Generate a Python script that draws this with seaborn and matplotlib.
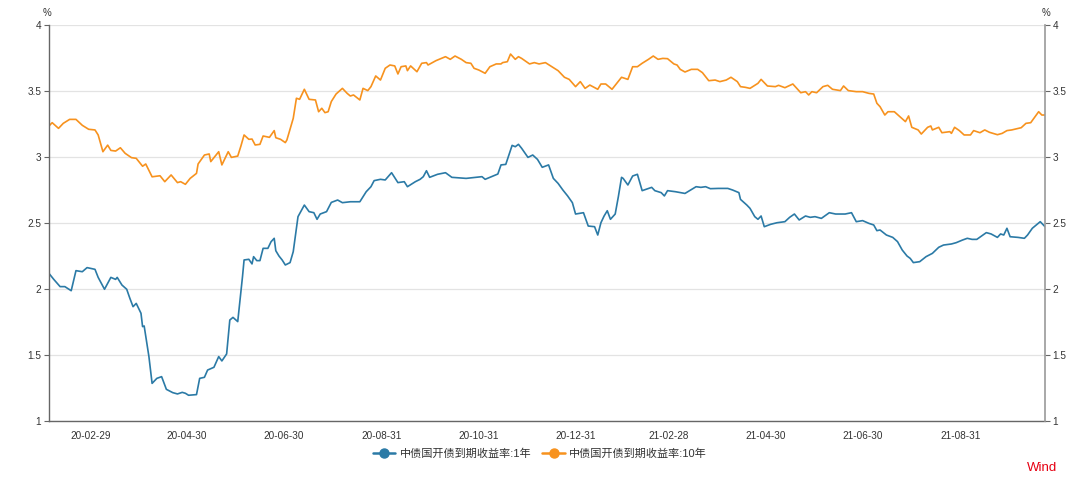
import numpy as np
import pandas as pd
import matplotlib
matplotlib.use("Agg")
import matplotlib.pyplot as plt
import seaborn as sns
import matplotlib.dates as mdates
from matplotlib.lines import Line2D
from matplotlib.ticker import FuncFormatter

sns.set_theme(style="white")
plt.rcParams["font.family"] = ["Liberation Sans", "Noto Sans CJK SC", "DejaVu Sans"]

# ---------------- data ----------------
base_date = "2020-02-29"
series_names = ["中债国开债到期收益率:1年", "中债国开债到期收益率:10年"]
colors = ["#2b7aa6", "#f7921e"]

# days relative to base_date
days_1y = [-26, -23, -19, -16, -12, -9, -5, -2, 3, 5,
           9, 13, 16, 17, 20, 23, 25, 27, 29, 32,
           33, 34, 37, 39, 42, 45, 48, 52, 55, 58,
           60, 62, 67, 69, 72, 74, 78, 81, 83, 86,
           88, 90, 93, 96, 97, 100, 102, 103, 105, 107,
           109, 112, 114, 116, 117, 119, 121, 123, 126, 128,
           131, 135, 138, 141, 143, 145, 149, 152, 156, 159,
           164, 170, 174, 177, 179, 183,
           186, 190, 194, 198, 200, 205, 208, 210, 212, 214,
           219, 224, 228, 237, 243, 247, 249, 254, 257, 259,
           262, 264, 266, 268, 270, 272, 276, 279, 282, 285,
           289, 292, 295, 298, 301, 304, 306, 311, 314, 318,
           320, 322, 324, 326, 328, 331, 333, 335, 336, 339,
           342, 345, 348, 354, 356, 360, 362, 364, 369, 375,
           382, 385, 388, 391,
           396, 402, 405, 409, 410, 414, 416, 419, 421, 423,
           425, 429, 433, 438, 441, 444, 447, 451, 454, 457,
           461, 466, 470, 476, 480, 483, 487, 491, 494, 496,
           498, 502, 506, 509, 512, 515, 517, 519, 523, 527,
           531, 535, 538, 543, 546, 550, 553, 556, 559, 565,
           568, 572, 574, 576, 578, 580, 585, 589, 591, 594,
           599, 602]
yld_1y = [2.118, 2.073, 2.018, 2.018, 1.987, 2.139, 2.131, 2.162, 2.149, 2.088,
          1.998, 2.088, 2.073, 2.088, 2.03, 1.998, 1.929, 1.866, 1.891, 1.816,
          1.715, 1.72, 1.488, 1.285, 1.323, 1.336, 1.24, 1.215, 1.205, 1.217,
          1.21, 1.195, 1.2, 1.323, 1.331, 1.386, 1.407, 1.488, 1.455, 1.508,
          1.765, 1.785, 1.753, 2.093, 2.22, 2.225, 2.19, 2.245, 2.215, 2.215,
          2.308, 2.308, 2.358, 2.384, 2.29, 2.25, 2.22, 2.182, 2.2, 2.283,
          2.548, 2.636, 2.586, 2.578, 2.528, 2.568, 2.586, 2.656, 2.674, 2.654,
          2.661, 2.661, 2.737, 2.775, 2.821, 2.831,
          2.826, 2.881, 2.806, 2.813, 2.775, 2.813, 2.831, 2.851, 2.896, 2.846,
          2.869, 2.881, 2.846, 2.838, 2.846, 2.851, 2.831, 2.856, 2.871, 2.94,
          2.944, 3.015, 3.088, 3.078, 3.096, 3.066, 2.997, 3.015, 2.982, 2.922,
          2.94, 2.838, 2.8, 2.75, 2.705, 2.654, 2.568, 2.578, 2.477, 2.472,
          2.409, 2.502, 2.553, 2.593, 2.528, 2.568, 2.7, 2.846, 2.838, 2.788,
          2.856, 2.869, 2.745, 2.77, 2.745, 2.73, 2.705, 2.745, 2.737, 2.724,
          2.775, 2.77, 2.775, 2.76,
          2.762, 2.762, 2.75, 2.73, 2.679, 2.636, 2.611, 2.548, 2.528, 2.553,
          2.472, 2.49, 2.502, 2.51, 2.543, 2.568, 2.523, 2.553, 2.543, 2.548,
          2.535, 2.578, 2.568, 2.568, 2.578, 2.51, 2.518, 2.497, 2.485, 2.442,
          2.447, 2.409, 2.391, 2.359, 2.295, 2.25, 2.232, 2.2, 2.207, 2.245,
          2.27, 2.316, 2.333, 2.341, 2.351, 2.371, 2.384, 2.376, 2.376, 2.427,
          2.417, 2.391, 2.417, 2.409, 2.46, 2.396, 2.391, 2.384, 2.409, 2.46,
          2.51, 2.472]

days_10y = [-26, -24, -20, -17, -13, -9, -5, -1, 3, 5,
            8, 11, 13, 16, 19, 22, 26, 29, 33, 35,
            39, 44, 47, 51, 55, 57, 60, 63, 67, 68,
            72, 75, 76, 81, 83, 87, 89, 93, 95, 97,
            100, 102, 104, 107, 109, 113, 116, 117, 120, 123,
            124, 128, 130, 132, 135, 138, 142, 144, 146, 148,
            150, 152, 155, 159, 162, 164, 166, 170, 172, 175,
            177, 180, 183,
            186, 189, 192, 194, 196, 199, 200, 202, 206, 209,
            212, 213, 218, 224, 227, 230, 234, 237, 240, 242,
            245, 249, 252, 256, 259, 260, 263, 265, 268, 270,
            272, 277, 280, 283, 287, 291, 295, 299, 302, 306,
            309, 312, 315, 320, 322, 325, 329, 332, 335, 339,
            342, 345, 348, 352, 355, 358, 361, 364, 368, 370,
            372, 375, 379, 383, 386, 390,
            394, 397, 401, 404, 408, 410, 413, 416, 421, 423,
            427, 432, 434, 438, 443, 448, 451, 453, 455, 458,
            462, 465, 468, 473, 475, 478, 483, 487, 491, 494,
            496, 498, 501, 503, 507, 510, 514, 516, 518, 522,
            524, 528, 530, 531, 535, 537, 542, 543, 545, 548,
            551, 555, 557, 561, 564, 567, 572, 575, 578, 581,
            587, 590, 593, 595, 598, 600, 602]
yld_10y = [3.235, 3.26, 3.217, 3.255, 3.285, 3.285, 3.24, 3.21, 3.205, 3.167,
           3.04, 3.09, 3.05, 3.045, 3.07, 3.028, 2.995, 2.99, 2.93, 2.947,
           2.85, 2.858, 2.813, 2.864, 2.806, 2.813, 2.793, 2.838, 2.876, 2.947,
           3.015, 3.023, 2.965, 3.04, 2.94, 3.04, 2.997, 3.007, 3.083, 3.167,
           3.134, 3.136, 3.091, 3.096, 3.159, 3.149, 3.2, 3.146, 3.134, 3.109,
           3.129, 3.293, 3.445, 3.437, 3.513, 3.437, 3.432, 3.343, 3.369, 3.336,
           3.343, 3.42, 3.477, 3.52, 3.482, 3.462, 3.47, 3.432, 3.52, 3.503,
           3.533, 3.614, 3.583,
           3.672, 3.697, 3.69, 3.629, 3.684, 3.69, 3.654, 3.69, 3.646, 3.71,
           3.715, 3.697, 3.73, 3.76, 3.74, 3.765, 3.74, 3.715, 3.71, 3.672,
           3.659, 3.634, 3.684, 3.705, 3.705, 3.715, 3.722, 3.78, 3.74, 3.76,
           3.747, 3.705, 3.715, 3.705, 3.715, 3.684, 3.654, 3.604, 3.588, 3.533,
           3.571, 3.52, 3.545, 3.513, 3.553, 3.553, 3.513, 3.558, 3.604, 3.588,
           3.684, 3.684, 3.71, 3.74, 3.765, 3.74, 3.747, 3.745, 3.705, 3.697,
           3.664, 3.644, 3.664, 3.664, 3.639, 3.578,
           3.583, 3.571, 3.583, 3.604, 3.571, 3.533, 3.528, 3.52, 3.558, 3.588,
           3.538, 3.533, 3.543, 3.525, 3.553, 3.487, 3.495, 3.47, 3.495, 3.487,
           3.533, 3.543, 3.513, 3.503, 3.538, 3.503, 3.495, 3.495, 3.482, 3.477,
           3.407, 3.381, 3.318, 3.343, 3.343, 3.311, 3.268, 3.311, 3.225, 3.205,
           3.174, 3.225, 3.235, 3.205, 3.225, 3.184, 3.192, 3.179, 3.225, 3.2,
           3.167, 3.167, 3.2, 3.184, 3.205, 3.187, 3.169, 3.179, 3.2, 3.205,
           3.222, 3.255, 3.26, 3.293, 3.343, 3.318, 3.318]

tick_dates = ["2020-02-29", "2020-04-30", "2020-06-30", "2020-08-31", "2020-10-31",
              "2020-12-31", "2021-02-28", "2021-04-30", "2021-06-30", "2021-08-31"]
y_ticks = [1, 1.5, 2, 2.5, 3, 3.5, 4]

# ---------------- build frame ----------------
base = pd.Timestamp(base_date)
df = pd.concat([
    pd.DataFrame({"date": base + pd.to_timedelta(days_1y, unit="D"),
                  "value": yld_1y, "series": series_names[0]}),
    pd.DataFrame({"date": base + pd.to_timedelta(days_10y, unit="D"),
                  "value": yld_10y, "series": series_names[1]}),
], ignore_index=True)

# ---------------- figure ----------------
fig = plt.figure(figsize=(10.8, 4.84), dpi=100)
ax = fig.add_axes([49 / 1080, 1 - 421 / 484, (1045 - 49) / 1080, (421 - 25) / 484])

sns.lineplot(data=df, x="date", y="value", hue="series", hue_order=series_names,
             palette=colors, estimator=None, linewidth=1.2, legend=False, ax=ax)

fmt = FuncFormatter(lambda v, p: f"{v:g}")
ax.set_ylim(1, 4)
ax.set_yticks(y_ticks)
ax.yaxis.set_major_formatter(fmt)
ax.set_xlim(df["date"].min(), df["date"].max())
ax.set_xticks(pd.to_datetime(tick_dates))
ax.xaxis.set_major_formatter(mdates.DateFormatter("%y-%m-%d"))
ax.set_xlabel("")
ax.set_ylabel("")
ax.grid(axis="y", color="#e3e3e3", linewidth=0.9)
ax.grid(axis="x", visible=False)
ax.set_axisbelow(True)
ax.tick_params(axis="both", which="major", length=3.5, width=0.8, color="#666666",
               labelsize=7.2, labelcolor="#333333", pad=2)
ax.tick_params(axis="x", pad=4)
for s in ["top", "right"]:
    ax.spines[s].set_visible(False)
for s in ["left", "bottom"]:
    ax.spines[s].set_color("#666666")
    ax.spines[s].set_linewidth(1.0)

ax2 = ax.twinx()
ax2.set_ylim(1, 4)
ax2.set_yticks(y_ticks)
ax2.yaxis.set_major_formatter(fmt)
ax2.grid(False)
ax2.tick_params(axis="y", length=3.5, width=0.8, color="#666666",
                labelsize=7.2, labelcolor="#333333", pad=2)
for s in ["top", "left", "bottom"]:
    ax2.spines[s].set_visible(False)
ax2.spines["right"].set_color("#999999")
ax2.spines["right"].set_linewidth(1.2)

# unit labels
fig.text(47 / 1080, 1 - 13 / 484, "%", ha="center", va="center", fontsize=7, color="#333333")
fig.text(1046 / 1080, 1 - 13 / 484, "%", ha="center", va="center", fontsize=7, color="#333333")

# legend
handles = [Line2D([0], [0], color=c, lw=1.8, marker="o", markersize=6.5) for c in colors]
fig.legend(handles, series_names, loc="center", bbox_to_anchor=(0.5, 1 - 454 / 484),
           ncol=2, frameon=False, fontsize=8, handlelength=2.0, handletextpad=0.4,
           columnspacing=1.0, labelcolor="#333333")

# watermark
fig.text(1057 / 1080, 1 - 468 / 484, "Wind", ha="right", va="center", fontsize=9.5,
         color="#e60012")

fig.savefig("out.png", dpi=100)
